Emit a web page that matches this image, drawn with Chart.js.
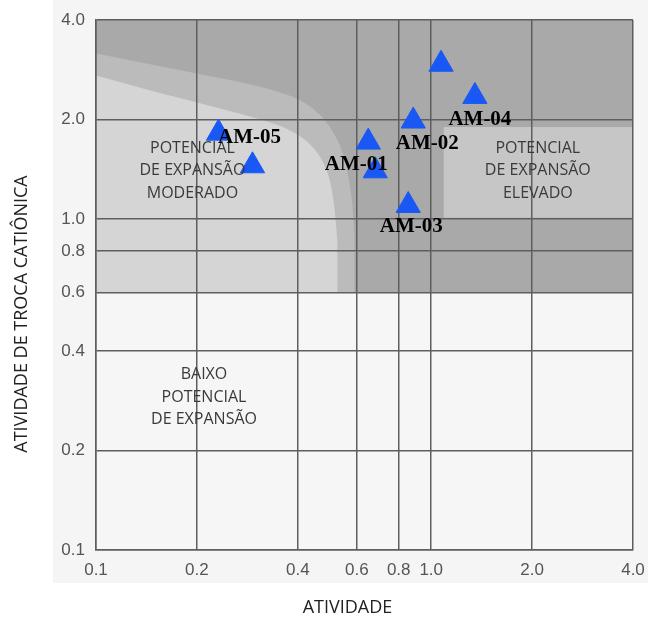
<!DOCTYPE html>
<html>
<head>
<meta charset="utf-8">
<script src="https://cdn.jsdelivr.net/npm/chart.js@4"></script>
<style>
  html, body { margin: 0; padding: 0; background: #fff; }
  #wrap { width: 648px; height: 617px; }
</style>
</head>
<body>
<div id="wrap"><canvas id="chart"></canvas></div>
<script>
const tickValues = [0.1, 0.2, 0.4, 0.6, 0.8, 1.0, 2.0, 4.0];
const sampleNames = ['AM-05', '', 'AM-01', '', 'AM-02', 'AM-03', '', 'AM-04'];
const activity = [0.232, 0.293, 0.649, 0.681, 0.884, 0.854, 1.07, 1.35];
const cationExchange = [1.82, 1.45, 1.71, 1.40, 1.98, 1.10, 2.94, 2.35];

// zone outlines, in axis units (activity, cation exchange activity)
const upperZoneX = [0.1, 4.0, 4.0, 0.1];
const upperZoneY = [4.0, 4.0, 0.6, 0.6];
const haloCurveX = [0.1, 0.178, 0.330, 0.450, 0.540, 0.580, 0.590];
const haloCurveY = [3.17, 2.82, 2.50, 2.20, 1.70, 1.20, 0.90];
const moderateCurveX = [0.1, 0.145, 0.204, 0.287, 0.378, 0.450, 0.495, 0.515, 0.525];
const moderateCurveY = [2.72, 2.45, 2.24, 2.05, 1.88, 1.65, 1.38, 1.10, 0.85];
const highBoxX = [1.09, 4.0, 4.0, 1.09];
const highBoxY = [1.90, 1.90, 1.01, 1.01];

const zoneLabels = [
  ['POTENCIAL', 'DE EXPANSÃO', 'MODERADO'],
  ['POTENCIAL', 'DE EXPANSÃO', 'ELEVADO'],
  ['BAIXO', 'POTENCIAL', 'DE EXPANSÃO']
];
const zoneLabelX = [0.194, 2.08, 0.21];
const zoneLabelY = [1.4, 1.4, 0.29];

// pixel offsets of the sample names from their triangle
const nameOffsets = [[31, 4], null, [-12, 22], null, [14, 23], [3, 21], null, [5, 23]];

const gridColor = '#5e5e5e';

const zonesPlugin = {
  id: 'zones',
  beforeDraw(chart) {
    const { ctx, chartArea: a, scales: { x, y } } = chart;
    const poly = (xs, ys, color) => {
      ctx.beginPath();
      xs.forEach((v, i) => {
        const px = x.getPixelForValue(v), py = y.getPixelForValue(ys[i]);
        if (i === 0) ctx.moveTo(px, py); else ctx.lineTo(px, py);
      });
      ctx.closePath();
      ctx.fillStyle = color;
      ctx.fill();
    };
    // smooth boundary, then straight down to the 0.6 line and back to the left edge
    const curved = (xs, ys, color) => {
      const pts = xs.map((v, i) => [x.getPixelForValue(v), y.getPixelForValue(ys[i])]);
      const base = y.getPixelForValue(upperZoneY[2]);
      ctx.beginPath();
      ctx.moveTo(pts[0][0], pts[0][1]);
      for (let i = 1; i < pts.length - 1; i++) {
        const mx = (pts[i][0] + pts[i + 1][0]) / 2, my = (pts[i][1] + pts[i + 1][1]) / 2;
        ctx.quadraticCurveTo(pts[i][0], pts[i][1], mx, my);
      }
      const last = pts[pts.length - 1];
      ctx.lineTo(last[0], last[1]);
      ctx.lineTo(last[0], base);
      ctx.lineTo(a.left, base);
      ctx.closePath();
      ctx.fillStyle = color;
      ctx.fill();
    };
    ctx.save();
    ctx.fillStyle = '#f5f5f5';
    ctx.fillRect(a.left - 43, 0, chart.width - a.left + 43, a.bottom + 33);
    ctx.fillStyle = '#f6f6f6';
    ctx.fillRect(a.left, a.top, a.right - a.left, a.bottom - a.top);
    poly(upperZoneX, upperZoneY, '#a9a9aa');
    poly(highBoxX, highBoxY, '#c6c6c7');
    curved(haloCurveX, haloCurveY, '#bbbbbc');
    curved(moderateCurveX, moderateCurveY, '#d5d5d6');
    ctx.restore();
  },
  afterDatasetsDraw(chart) {
    const { ctx, scales: { x, y } } = chart;
    ctx.save();
    ctx.textAlign = 'center';
    ctx.textBaseline = 'middle';
    ctx.fillStyle = '#3a3a3a';
    ctx.font = '16px "Open Sans"';
    zoneLabels.forEach((lines, i) => {
      const cx = x.getPixelForValue(zoneLabelX[i]);
      const cy = y.getPixelForValue(zoneLabelY[i]);
      lines.forEach((t, j) => ctx.fillText(t, cx, cy + (j - 1) * 22.5));
    });
    ctx.fillStyle = '#000';
    ctx.font = 'bold 21px "Liberation Serif"';
    sampleNames.forEach((name, i) => {
      if (!name) return;
      const off = nameOffsets[i];
      ctx.fillText(name, x.getPixelForValue(activity[i]) + off[0], y.getPixelForValue(cationExchange[i]) + off[1]);
    });
    ctx.restore();
  },
  afterDraw(chart) {
    const { ctx, chartArea: a } = chart;
    ctx.save();
    ctx.fillStyle = '#222';
    ctx.font = '18px "Open Sans"';
    ctx.textAlign = 'center';
    ctx.textBaseline = 'middle';
    ctx.fillText('ATIVIDADE', (a.left + a.right) / 2 - 17, a.bottom + 58);
    ctx.translate(a.left - 74, (a.top + a.bottom) / 2 + 29);
    ctx.rotate(-Math.PI / 2);
    ctx.fillText('ATIVIDADE DE TROCA CATIÔNICA', 0, 0);
    ctx.restore();
  }
};

const axisTicks = (s) => { s.ticks = tickValues.map(v => ({ value: v })); };

new Chart(document.getElementById('chart'), {
  type: 'scatter',
  data: {
    datasets: [{
      label: 'Amostras',
      data: activity.map((v, i) => ({ x: v, y: cationExchange[i] })),
      pointStyle: 'triangle',
      pointRadius: 14,
      pointHoverRadius: 14,
      backgroundColor: '#1a58f5',
      borderColor: '#1a58f5',
      borderWidth: 1
    }]
  },
  options: {
    responsive: true,
    maintainAspectRatio: false,
    animation: false,
    events: [],
    layout: { padding: { top: 20, right: 14, left: 0, bottom: 0 } },
    plugins: { legend: { display: false }, tooltip: { enabled: false } },
    scales: {
      x: {
        type: 'logarithmic',
        min: 0.1,
        max: 4,
        afterBuildTicks: axisTicks,
        afterFit: (s) => { s.height = 67; s.paddingLeft = 0; s.paddingRight = 0; },
        grid: { color: gridColor, lineWidth: 1.5, drawTicks: false },
        border: { color: gridColor, width: 1.5 },
        ticks: {
          color: '#555',
          font: { family: 'Liberation Sans', size: 17 },
          padding: 10,
          maxRotation: 0,
          autoSkip: false,
          callback: (v) => Number(v).toFixed(1)
        }
      },
      y: {
        type: 'logarithmic',
        min: 0.1,
        max: 4,
        afterBuildTicks: axisTicks,
        afterFit: (s) => { s.width = 96; s.paddingTop = 0; s.paddingBottom = 0; },
        grid: { color: gridColor, lineWidth: 1.5, drawTicks: false },
        border: { color: gridColor, width: 1.5 },
        ticks: {
          color: '#555',
          font: { family: 'Liberation Sans', size: 17 },
          padding: 11,
          autoSkip: false,
          callback: (v) => Number(v).toFixed(1)
        }
      }
    }
  },
  plugins: [zonesPlugin]
});
</script>
</body>
</html>
